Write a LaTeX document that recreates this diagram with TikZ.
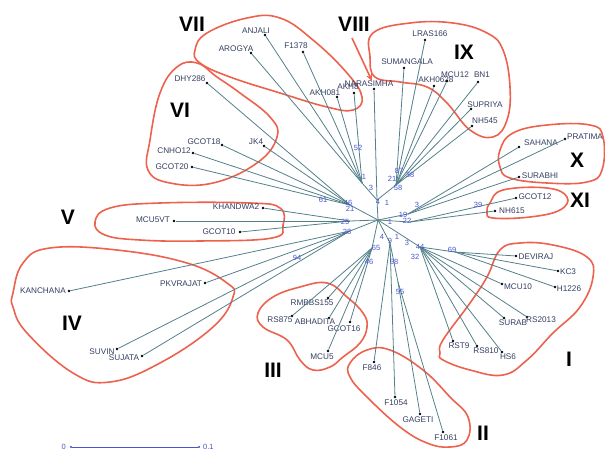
\documentclass[tikz,border=0pt]{standalone}
\usepackage{fontspec}
\setmainfont{Liberation Sans}
\usetikzlibrary{arrows.meta}
\definecolor{branchcol}{RGB}{84,128,138}
\definecolor{groupcol}{RGB}{236,98,78}
\definecolor{bootcol}{RGB}{72,84,210}
\definecolor{labelcol}{RGB}{52,62,96}

\begin{document}
\begin{tikzpicture}[x=1pt, y=-1pt,
  leaf/.style={circle, fill=black, inner sep=0pt, minimum size=2.6pt},
  inner/.style={coordinate},
  lbl/.style={text=labelcol, font=\fontsize{8.2}{9}\selectfont, inner sep=0pt},
  boot/.style={text=bootcol, font=\fontsize{7.5}{8}\selectfont, inner sep=0pt},
  branch/.style={draw=branchcol, line width=0.8pt},
  group/.style={draw=groupcol, line width=1.6pt},
  roman/.style={font=\fontsize{21}{21}\selectfont\bfseries, inner sep=0pt}]

  \useasboundingbox (0,0) rectangle (605,450);

  % Cluster outlines
  \draw[group] plot[smooth cycle, tension=0.7] coordinates {(195,50) (207,33) (247,18) (280,18) (313,40) (347,73) (362,97) (353,110) (327,107) (280,93) (230,77) (200,63)};
  \draw[group] plot[smooth cycle, tension=0.7] coordinates {(373,33) (410,23) (453,23) (487,33) (503,50) (510,87) (507,120) (493,137) (470,130) (447,103) (427,87) (400,82) (375,77) (370,57)};
  \draw[group] plot[smooth cycle, tension=0.7] coordinates {(150,140) (148,170) (170,183) (213,183) (257,163) (277,137) (270,117) (240,93) (217,77) (197,63) (177,67) (160,93)};
  \draw[group] plot[smooth cycle, tension=0.7] coordinates {(95,222) (110,208) (160,203) (250,203) (280,208) (283,225) (272,238) (200,241) (140,240) (105,235)};
  \draw[group] plot[smooth cycle, tension=0.7] coordinates {(13,293) (23,263) (50,248) (117,250) (187,263) (227,283) (233,297) (213,327) (160,363) (110,382) (73,373) (27,333) (13,307)};
  \draw[group] plot[smooth cycle, tension=0.7] coordinates {(258,313) (273,297) (300,287) (327,283) (347,297) (363,313) (367,327) (360,343) (343,357) (330,367) (313,370) (300,360) (287,340) (263,327)};
  \draw[group] plot[smooth cycle, tension=0.7] coordinates {(350,363) (367,350) (390,350) (423,370) (450,397) (468,417) (467,440) (450,447) (427,443) (400,427) (367,397) (350,377)};
  \draw[group] plot[smooth cycle, tension=0.7] coordinates {(440,353) (443,340) (470,303) (487,277) (500,250) (520,243) (553,245) (587,257) (593,277) (580,307) (553,333) (527,360) (503,375) (470,370) (443,360)};
  \draw[group] plot[smooth cycle, tension=0.7] coordinates {(500,150) (513,133) (547,125) (590,125) (603,137) (602,170) (587,182) (547,183) (510,178) (500,167)};
  \draw[group] plot[smooth cycle, tension=0.7] coordinates {(490,203) (503,190) (547,188) (567,197) (560,210) (530,217) (493,218) (487,212)};

  % Internal nodes
  \node[inner] (hub) at (378,220) {};
  \node[inner] (nTop) at (377,200) {};
  \node[inner] (nVII) at (362,183) {};
  \node[inner] (nIX) at (396,185) {};
  \node[inner] (nVI) at (350,205) {};
  \node[inner] (nV) at (350,221) {};
  \node[inner] (nIV) at (350,231) {};
  \node[inner] (nIII) at (372,248) {};
  \node[inner] (nII) at (390,243) {};
  \node[inner] (nIIb) at (398,282) {};
  \node[inner] (nI) at (420,247) {};
  \node[inner] (nIb) at (455,252) {};
  \node[inner] (nX) at (408,214) {};
  \node[inner] (nXI) at (410,222) {};

  % Inner branches
  \draw[branch] (nTop) -- (hub);
  \draw[branch] (nVII) -- (nTop);
  \draw[branch] (nIX) -- (nTop);
  \draw[branch] (nVI) -- (hub);
  \draw[branch] (nV) -- (hub);
  \draw[branch] (nIV) -- (hub);
  \draw[branch] (nIII) -- (hub);
  \draw[branch] (nII) -- (hub);
  \draw[branch] (nIIb) -- (nII);
  \draw[branch] (nI) -- (hub);
  \draw[branch] (nIb) -- (nI);
  \draw[branch] (nX) -- (hub);
  \draw[branch] (nXI) -- (hub);

  % Group VII and VIII
  \node[leaf] (anjali) at (265,35) {};
  \node[lbl] (anjaliL) at (256,31) {ANJALI};
  \node[leaf] (arogya) at (251,53) {};
  \node[lbl] (arogyaL) at (236,49) {AROGYA};
  \node[leaf] (f1378) at (303,52) {};
  \node[lbl] (f1378L) at (296,46) {F1378};
  \node[leaf] (akh081) at (337,97) {};
  \node[lbl] (akh081L) at (325,93) {AKH081};
  \node[leaf] (akh8) at (354,93) {};
  \node[lbl] (akh8L) at (348,87) {AKH8};
  \node[leaf] (narasimha) at (374,89) {};
  \node[lbl] (narasimhaL) at (369,84) {NARASIMHA};
  \draw[branch] (anjali) -- (nVII);
  \draw[branch] (arogya) -- (nVII);
  \draw[branch] (f1378) -- (nVII);
  \draw[branch] (akh081) -- (nVII);
  \draw[branch] (akh8) -- (nVII);
  \draw[branch] (narasimha) -- (nTop);

  % Group IX
  \node[leaf] (lras166) at (425,40) {};
  \node[lbl] (lras166L) at (430,34) {LRAS166};
  \node[leaf] (sumangala) at (404,68) {};
  \node[lbl] (sumangalaL) at (407,62) {SUMANGALA};
  \node[leaf] (akh0628) at (434,86) {};
  \node[lbl] (akh0628L) at (436,80) {AKH0628};
  \node[leaf] (mcu12) at (447,81) {};
  \node[lbl] (mcu12L) at (455,75) {MCU12};
  \node[leaf] (bn1) at (478,82) {};
  \node[lbl] (bn1L) at (482,75) {BN1};
  \node[leaf] (supriya) at (471,109) {};
  \node[lbl] (supriyaL) at (485,105) {SUPRIYA};
  \node[leaf] (nh545) at (472,126) {};
  \node[lbl] (nh545L) at (485,121) {NH545};
  \draw[branch] (lras166) -- (nIX);
  \draw[branch] (sumangala) -- (nIX);
  \draw[branch] (akh0628) -- (nIX);
  \draw[branch] (mcu12) -- (nIX);
  \draw[branch] (bn1) -- (nIX);
  \draw[branch] (supriya) -- (nIX);
  \draw[branch] (nh545) -- (nIX);

  % Group VI
  \node[leaf] (dhy286) at (207,83) {};
  \node[lbl] (dhy286L) at (190,79) {DHY286};
  \node[leaf] (gcot18) at (222,145) {};
  \node[lbl] (gcot18L) at (204,142) {GCOT18};
  \node[leaf] (jk4) at (264,146) {};
  \node[lbl] (jk4L) at (256,142) {JK4};
  \node[leaf] (cnho12) at (193,153) {};
  \node[lbl] (cnho12L) at (174,151) {CNHO12};
  \node[leaf] (gcot20) at (192,167) {};
  \node[lbl] (gcot20L) at (172,167) {GCOT20};
  \draw[branch] (dhy286) -- (nVI);
  \draw[branch] (gcot18) -- (nVI);
  \draw[branch] (jk4) -- (nVI);
  \draw[branch] (cnho12) -- (nVI);
  \draw[branch] (gcot20) -- (nVI);

  % Group V
  \node[leaf] (khandwa2) at (263,208) {};
  \node[lbl] (khandwa2L) at (236,207) {KHANDWA2};
  \node[leaf] (mcu5vt) at (174,221) {};
  \node[lbl] (mcu5vtL) at (153,220) {MCU5VT};
  \node[leaf] (gcot10) at (240,232) {};
  \node[lbl] (gcot10L) at (219,232) {GCOT10};
  \draw[branch] (khandwa2) -- (nV);
  \draw[branch] (mcu5vt) -- (nV);
  \draw[branch] (gcot10) -- (nV);

  % Group IV
  \node[leaf] (kanchana) at (69,291) {};
  \node[lbl] (kanchanaL) at (43,291) {KANCHANA};
  \node[leaf] (pkvrajat) at (205,283) {};
  \node[lbl] (pkvrajatL) at (181,284) {PKVRAJAT};
  \node[leaf] (suvin) at (117,349) {};
  \node[lbl] (suvinL) at (102,352) {SUVIN};
  \node[leaf] (sujata) at (142,356) {};
  \node[lbl] (sujataL) at (124,358) {SUJATA};
  \draw[branch] (kanchana) -- (nIV);
  \draw[branch] (pkvrajat) -- (nIV);
  \draw[branch] (suvin) -- (nIV);
  \draw[branch] (sujata) -- (nIV);

  % Group III
  \node[leaf] (rmbbs155) at (328,298) {};
  \node[lbl] (rmbbs155L) at (312,303) {RMBBS155};
  \node[leaf] (rs875) at (292,316) {};
  \node[lbl] (rs875L) at (280,320) {RS875};
  \node[leaf] (abhadita) at (329,318) {};
  \node[lbl] (abhaditaL) at (315,322) {ABHADITA};
  \node[leaf] (gcot16) at (350,322) {};
  \node[lbl] (gcot16L) at (344,329) {GCOT16};
  \node[leaf] (mcu5) at (328,351) {};
  \node[lbl] (mcu5L) at (322,357) {MCU5};
  \draw[branch] (rmbbs155) -- (nIII);
  \draw[branch] (rs875) -- (nIII);
  \draw[branch] (abhadita) -- (nIII);
  \draw[branch] (gcot16) -- (nIII);
  \draw[branch] (mcu5) -- (nIII);

  % Group II
  \node[leaf] (f846) at (374,362) {};
  \node[lbl] (f846L) at (372,368) {F846};
  \node[leaf] (f1054) at (395,397) {};
  \node[lbl] (f1054L) at (396,403) {F1054};
  \node[leaf] (gageti) at (420,414) {};
  \node[lbl] (gagetiL) at (418,420) {GAGETI};
  \node[leaf] (f1061) at (443,432) {};
  \node[lbl] (f1061L) at (446,438) {F1061};
  \draw[branch] (f846) -- (nII);
  \draw[branch] (f1054) -- (nII);
  \draw[branch] (gageti) -- (nIIb);
  \draw[branch] (f1061) -- (nIIb);

  % Group I
  \node[leaf] (deviraj) at (516,256) {};
  \node[lbl] (devirajL) at (536,257) {DEVIRAJ};
  \node[leaf] (kc3) at (558,271) {};
  \node[lbl] (kc3L) at (568,272) {KC3};
  \node[leaf] (mcu10) at (502,284) {};
  \node[lbl] (mcu10L) at (518,287) {MCU10};
  \node[leaf] (h1226) at (555,287) {};
  \node[lbl] (h1226L) at (569,289) {H1226};
  \node[leaf] (surab) at (504,318) {};
  \node[lbl] (surabL) at (513,323) {SURAB};
  \node[leaf] (rs2013) at (527,317) {};
  \node[lbl] (rs2013L) at (541,320) {RS2013};
  \node[leaf] (rst9) at (453,341) {};
  \node[lbl] (rst9L) at (459,346) {RST9};
  \node[leaf] (rs810) at (477,346) {};
  \node[lbl] (rs810L) at (486,351) {RS810};
  \node[leaf] (hs6) at (502,352) {};
  \node[lbl] (hs6L) at (508,357) {HS6};
  \draw[branch] (deviraj) -- (nIb);
  \draw[branch] (kc3) -- (nIb);
  \draw[branch] (h1226) -- (nIb);
  \draw[branch] (mcu10) -- (nI);
  \draw[branch] (surab) -- (nI);
  \draw[branch] (rs2013) -- (nI);
  \draw[branch] (rst9) -- (nI);
  \draw[branch] (rs810) -- (nI);
  \draw[branch] (hs6) -- (nI);

  % Group X and XI
  \node[leaf] (sahana) at (519,147) {};
  \node[lbl] (sahanaL) at (541,143) {SAHANA};
  \node[leaf] (pratima) at (565,139) {};
  \node[lbl] (pratimaL) at (585,137) {PRATIMA};
  \node[leaf] (surabhi) at (519,177) {};
  \node[lbl] (surabhiL) at (540,176) {SURABHI};
  \node[leaf] (gcot12) at (516,198) {};
  \node[lbl] (gcot12L) at (535,197) {GCOT12};
  \node[leaf] (nh615) at (495,211) {};
  \node[lbl] (nh615L) at (512,211) {NH615};
  \draw[branch] (sahana) -- (nX);
  \draw[branch] (pratima) -- (nX);
  \draw[branch] (surabhi) -- (nX);
  \draw[branch] (gcot12) -- (nXI);
  \draw[branch] (nh615) -- (nXI);

  % Bootstrap values
  \node[boot] (b01) at (358,148) {52};
  \node[boot] (b02) at (364,177) {1};
  \node[boot] (b03) at (371,188) {3};
  \node[boot] (b04) at (399,171) {87};
  \node[boot] (b05) at (410,175) {38};
  \node[boot] (b06) at (392,179) {21};
  \node[boot] (b07) at (398,188) {58};
  \node[boot] (b08) at (378,202) {4};
  \node[boot] (b09) at (387,203) {1};
  \node[boot] (b10) at (323,200) {61};
  \node[boot] (b11) at (348,203) {46};
  \node[boot] (b12) at (350,209) {21};
  \node[boot] (b13) at (345,222) {25};
  \node[boot] (b14) at (347,232) {28};
  \node[boot] (b15) at (417,205) {3};
  \node[boot] (b16) at (403,215) {19};
  \node[boot] (b17) at (407,221) {22};
  \node[boot] (b18) at (390,222) {1};
  \node[boot] (b19) at (382,237) {4};
  \node[boot] (b20) at (390,241) {9};
  \node[boot] (b21) at (397,237) {1};
  \node[boot] (b22) at (407,243) {3};
  \node[boot] (b23) at (420,247) {44};
  \node[boot] (b24) at (452,250) {69};
  \node[boot] (b25) at (415,257) {32};
  \node[boot] (b26) at (376,248) {65};
  \node[boot] (b27) at (369,262) {46};
  \node[boot] (b28) at (394,262) {58};
  \node[boot] (b29) at (400,292) {55};
  \node[boot] (b30) at (297,258) {94};
  \node[boot] (b31) at (478,205) {39};

  % Group numbers
  \node[roman] (rVII) at (192,24) {VII};
  \node[roman] (rVIII) at (354,24) {VIII};
  \node[roman] (rIX) at (464,52) {IX};
  \node[roman] (rVI) at (180,110) {VI};
  \node[roman] (rV) at (68,217) {V};
  \node[roman] (rIV) at (72,323) {IV};
  \node[roman] (rIII) at (273,370) {III};
  \node[roman] (rII) at (483,433) {II};
  \node[roman] (rI) at (569,359) {I};
  \node[roman] (rX) at (577,160) {X};
  \node[roman] (rXI) at (580,200) {XI};

  % Arrow to VIII
  \node[inner] (arrTail) at (352,38) {};
  \node[inner] (arrHead) at (372,81) {};
  \draw[group, -{Stealth[length=7pt, width=6pt]}] (arrTail) -- (arrHead);

  % Scale bar
  \node[inner] (sb0) at (70,447) {};
  \node[inner] (sb1) at (200,447) {};
  \draw[draw=bootcol, line width=0.6pt, {Circle[length=2pt]}-{Circle[length=2pt]}] (sb0) -- (sb1);
  \node[boot, anchor=east] (sb0L) at (66,447) {0};
  \node[boot, anchor=west] (sb1L) at (203,447) {0.1};

\end{tikzpicture}
\end{document}
